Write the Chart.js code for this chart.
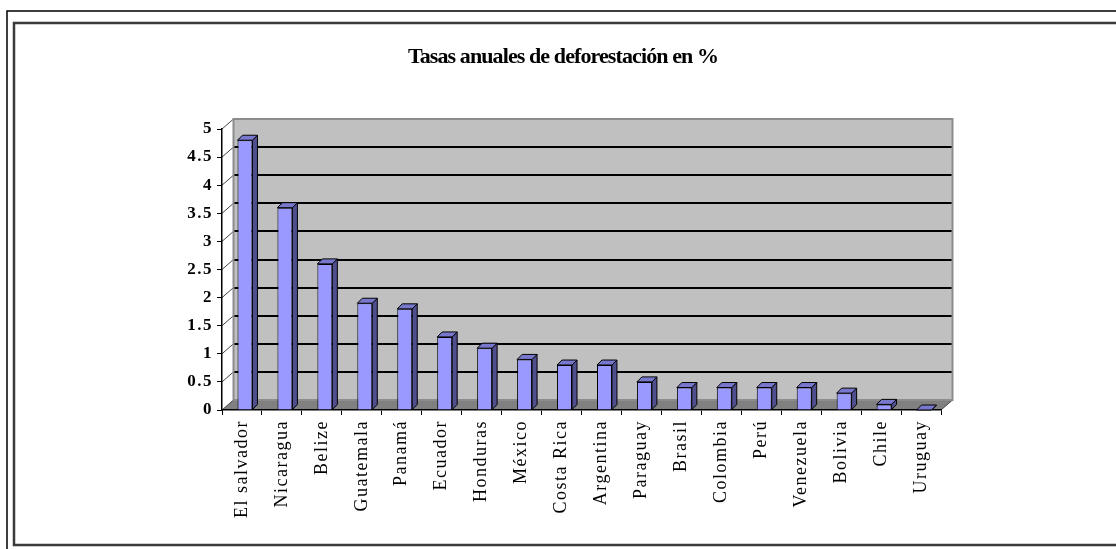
<!DOCTYPE html>
<html>
<head>
<meta charset="utf-8">
<script src="https://cdn.jsdelivr.net/npm/chart.js@4.4.1/dist/chart.umd.min.js"></script>
<style>
  html, body { margin: 0; padding: 0; background: #fff; }
  #wrap { position: relative; width: 1116px; height: 549px; }
  canvas { display: block; }
</style>
</head>
<body>
<div id="wrap"><canvas id="c" width="1116" height="549"></canvas></div>
<script>
// Annual deforestation rates (%) by country
const titleText = 'Tasas anuales de deforestación en %';
const countries = ['El salvador', 'Nicaragua', 'Belize', 'Guatemala', 'Panamá', 'Ecuador',
  'Honduras', 'México', 'Costa Rica', 'Argentina', 'Paraguay', 'Brasil', 'Colombia',
  'Perú', 'Venezuela', 'Bolivia', 'Chile', 'Uruguay'];
const rates = [4.8, 3.6, 2.6, 1.9, 1.8, 1.3, 1.1, 0.9, 0.8, 0.8, 0.5, 0.4, 0.4, 0.4, 0.4, 0.3, 0.1, 0];
const yTicks = [0, 0.5, 1, 1.5, 2, 2.5, 3, 3.5, 4, 4.5, 5];

// depth of the 3D box (walls) and of each column
const WALL_DX = 11.5, WALL_DY = -10;
const BAR_DX = 5, BAR_DY = -5;
const BAR_SHIFT = 3;
const FRONT = '#9999ff', TOP = '#7777cc', SIDE = '#4f4f8f';
const LABEL_SPACING = '1.5px';

const box3d = {
  id: 'box3d',
  beforeLayout(chart) { chart.ctx.letterSpacing = LABEL_SPACING; },
  beforeDraw(chart) {
    const { ctx, chartArea: a, scales: { y } } = chart;
    const L = a.left, R = a.right, B = a.bottom, T = y.getPixelForValue(5);
    ctx.save();
    ctx.fillStyle = '#fff';
    ctx.fillRect(0, 0, chart.width, chart.height);
    // back wall
    ctx.fillStyle = '#c0c0c0';
    ctx.fillRect(L + WALL_DX, T + WALL_DY, R - L, B - T);
    // floor
    ctx.fillStyle = '#808080';
    ctx.beginPath();
    ctx.moveTo(L, B); ctx.lineTo(L + WALL_DX, B + WALL_DY);
    ctx.lineTo(R + WALL_DX, B + WALL_DY); ctx.lineTo(R, B);
    ctx.closePath(); ctx.fill();
    // gridlines on the back wall
    ctx.strokeStyle = '#000'; ctx.lineWidth = 2;
    yTicks.forEach(v => {
      if (v <= 0 || v >= 5) return;
      const py = Math.round(y.getPixelForValue(v) + WALL_DY);
      ctx.beginPath(); ctx.moveTo(L + WALL_DX, py); ctx.lineTo(R + WALL_DX, py); ctx.stroke();
    });
    // gridlines on the side wall
    ctx.strokeStyle = '#444'; ctx.lineWidth = 1;
    yTicks.forEach(v => {
      const py = y.getPixelForValue(v);
      ctx.beginPath(); ctx.moveTo(L, py); ctx.lineTo(L + WALL_DX, py + WALL_DY); ctx.stroke();
    });
    // floor right edge
    ctx.beginPath(); ctx.moveTo(R, B); ctx.lineTo(R + WALL_DX, B + WALL_DY); ctx.stroke();
    // wall outline
    ctx.strokeStyle = '#8c8c8c'; ctx.lineWidth = 2;
    ctx.strokeRect(L + WALL_DX, T + WALL_DY, R - L, B - T);
    ctx.restore();
    ctx.letterSpacing = LABEL_SPACING;
  },
  beforeDatasetsDraw(chart) {
    chart.ctx.save();
    chart.ctx.translate(BAR_SHIFT, 0);
  },
  afterDatasetsDraw(chart) {
    const ctx = chart.ctx;
    const meta = chart.getDatasetMeta(0);
    ctx.lineWidth = 1; ctx.strokeStyle = '#000'; ctx.lineJoin = 'round';
    meta.data.forEach(bar => {
      const { x, y, base, width } = bar.getProps(['x', 'y', 'base', 'width'], true);
      const l = x - width / 2, r = x + width / 2;
      ctx.fillStyle = SIDE;
      ctx.beginPath();
      ctx.moveTo(r, y); ctx.lineTo(r + BAR_DX, y + BAR_DY);
      ctx.lineTo(r + BAR_DX, base + BAR_DY); ctx.lineTo(r, base);
      ctx.closePath(); ctx.fill(); ctx.stroke();
      ctx.fillStyle = TOP;
      ctx.beginPath();
      ctx.moveTo(l, y); ctx.lineTo(l + BAR_DX, y + BAR_DY);
      ctx.lineTo(r + BAR_DX, y + BAR_DY); ctx.lineTo(r, y);
      ctx.closePath(); ctx.fill(); ctx.stroke();
    });
    ctx.restore();
  },
  afterDraw(chart) {
    const ctx = chart.ctx;
    ctx.save();
    // title
    ctx.letterSpacing = '-0.9px';
    ctx.font = 'bold 22px "Liberation Serif"';
    ctx.fillStyle = '#000';
    ctx.textAlign = 'center';
    ctx.textBaseline = 'middle';
    ctx.fillText(titleText, 563, 57);
    // frames
    ctx.strokeStyle = '#000'; ctx.lineWidth = 1.5;
    ctx.beginPath(); ctx.moveTo(7, 549); ctx.lineTo(7, 11); ctx.lineTo(1116, 11); ctx.stroke();
    ctx.strokeStyle = '#3a3a3a'; ctx.lineWidth = 2.5;
    ctx.beginPath(); ctx.moveTo(1116, 23); ctx.lineTo(14, 23); ctx.lineTo(14, 545); ctx.lineTo(1116, 545); ctx.stroke();
    ctx.restore();
  }
};

new Chart(document.getElementById('c'), {
  type: 'bar',
  data: {
    labels: countries,
    datasets: [{
      data: rates,
      backgroundColor: FRONT,
      borderColor: '#000',
      borderWidth: 1,
      barPercentage: 0.375,
      categoryPercentage: 1
    }]
  },
  options: {
    responsive: false,
    animation: false,
    devicePixelRatio: 1,
    layout: { padding: { top: 129, right: 175, bottom: 0, left: 0 } },
    plugins: { legend: { display: false }, title: { display: false }, tooltip: { enabled: false } },
    scales: {
      x: {
        offset: true,
        grid: { display: true, drawOnChartArea: false, drawTicks: true, tickLength: 5, color: '#000', offset: true },
        border: { display: true, color: '#000', width: 1.5 },
        ticks: {
          autoSkip: false, minRotation: 90, maxRotation: 90, padding: 5,
          color: '#000', font: { family: '"Liberation Serif"', size: 18 }
        },
        afterFit(scale) { scale.height = 139; }
      },
      y: {
        min: 0, max: 5,
        afterBuildTicks(scale) { scale.ticks = yTicks.map(v => ({ value: v })); },
        grid: { display: true, drawOnChartArea: false, drawTicks: true, tickLength: 5, color: '#000' },
        border: { display: true, color: '#000', width: 1.5 },
        ticks: {
          padding: 4, color: '#000',
          callback: v => String(v),
          font: { family: '"Liberation Serif"', size: 17, weight: 'bold' }
        },
        afterFit(scale) { scale.width = 222; }
      }
    }
  },
  plugins: [box3d]
});
</script>
</body>
</html>
